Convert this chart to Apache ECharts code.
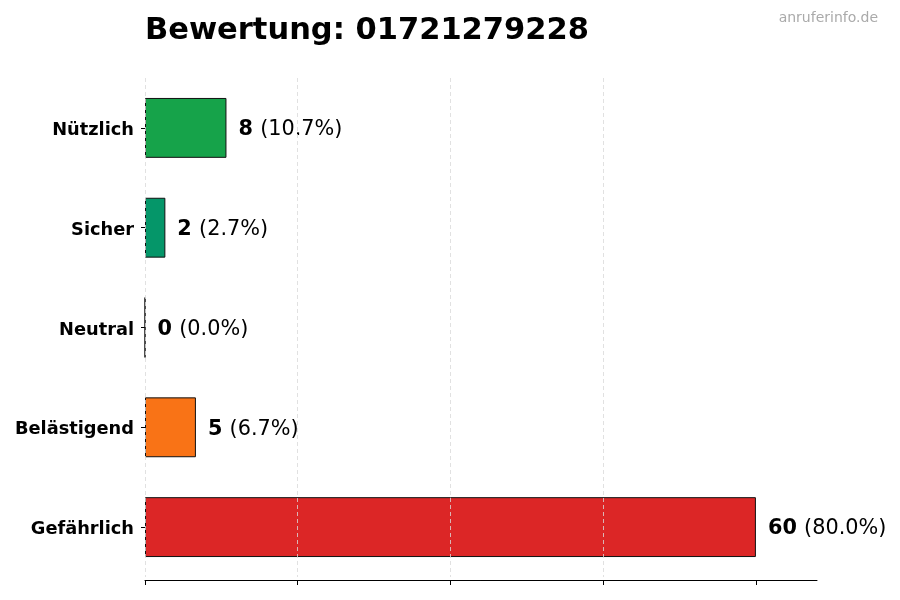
<!DOCTYPE html>
<html><head><meta charset="utf-8">
<script src="https://cdn.jsdelivr.net/npm/echarts@6/dist/echarts.min.js"></script>
<style>html,body{margin:0;padding:0;background:#fff}#c{width:900px;height:600px}</style>
</head><body><div id="c"></div>
<script>
const categories = ['Nützlich', 'Sicher', 'Neutral', 'Belästigend', 'Gefährlich'];
const counts = [8, 2, 0, 5, 60];
const percents = ['10.7%', '2.7%', '0.0%', '6.7%', '80.0%'];
const colors = ['#16a34a', '#059669', '#6b7280', '#f97316', '#dc2626'];
const xTicks = [0, 15, 30, 45, 60];

const chart = echarts.init(document.getElementById('c'), null, {renderer: 'canvas'});
const font = 'DejaVu Sans';
chart.setOption({
  animation: false,
  textStyle: {fontFamily: font},
  title: [{
    text: 'Bewertung: 01721279228', left: 140, top: 11,
    textStyle: {fontFamily: font, fontSize: 30.5, fontWeight: 'bold', color: '#000'}
  }, {
    text: 'anruferinfo.de', right: 17, top: 6,
    textStyle: {fontFamily: font, fontSize: 14, fontWeight: 'normal', color: '#aaaaaa'}
  }],
  grid: {left: 145, top: 78, width: 672, height: 499, containLabel: false},
  xAxis: {
    type: 'value', min: 0, max: 66, interval: 15, z: 5, offset: 3,
    axisLine: {show: true, lineStyle: {color: '#000', width: 1}},
    axisTick: {show: true, length: 5, customValues: xTicks, lineStyle: {color: '#000'}},
    axisLabel: {show: false},
    splitLine: {show: true, showMaxLine: false, lineStyle: {color: '#d9d9d9', type: [4, 3], width: 0.8}}
  },
  yAxis: {
    type: 'category', data: categories, inverse: true,
    axisLine: {show: false},
    axisTick: {show: true, alignWithLabel: true, length: 4, lineStyle: {color: '#000'}},
    axisLabel: {
      margin: 11,
      formatter: v => '{a|' + v + '}',
      rich: {a: {fontFamily: font, fontSize: 17.8, fontWeight: 'bold', color: '#000', padding: [5, 0, 0, 0]}}
    },
    splitLine: {show: false}
  },
  series: [{
    type: 'bar', barWidth: '60%',
    data: counts.map((v, i) => ({value: v, itemStyle: {color: colors[i]}})),
    itemStyle: {borderColor: '#111', borderWidth: 1},
    label: {
      show: true, position: 'right', distance: 12, padding: [4, 0, 0, 0],
      formatter: p => '{b|' + counts[p.dataIndex] + ' }{n|(' + percents[p.dataIndex] + ')}',
      rich: {
        b: {fontFamily: font, fontSize: 20.8, fontWeight: 'bold', color: '#000'},
        n: {fontFamily: font, fontSize: 20.8, color: '#000'}
      }
    }
  }]
});
</script></body></html>
